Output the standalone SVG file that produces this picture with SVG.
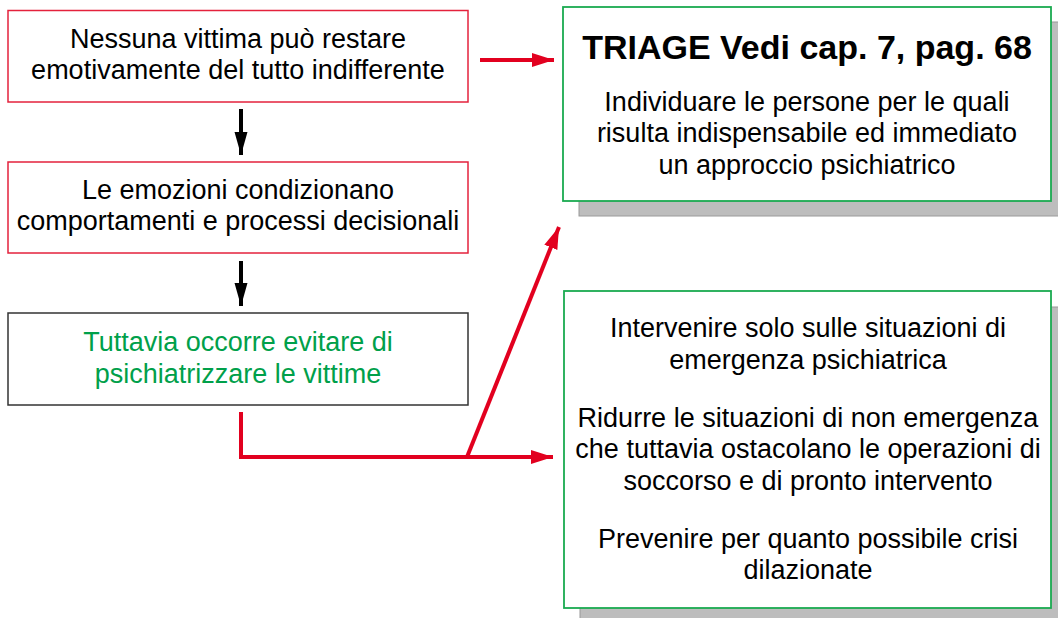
<svg xmlns="http://www.w3.org/2000/svg" width="1058" height="618" viewBox="0 0 1058 618">
<defs>
<style>
.t{font-family:"Liberation Sans",Arial,sans-serif;font-size:27px;fill:#000;text-anchor:middle}
.g{fill:#00a04a}
.b{font-weight:bold;font-size:34px}
.rbox{fill:#fff;stroke:#e4223c;stroke-width:1.5}
.kbox{fill:#fff;stroke:#333;stroke-width:1.5}
.gbox{fill:#fff;stroke:#1aaa50;stroke-width:1.8}
.sh{fill:#bdbdbd;stroke:#9a9a9a;stroke-width:1}
.red{fill:none;stroke:#e2001f;stroke-width:4}
.blk{fill:none;stroke:#000;stroke-width:4}
</style>
<marker id="ar" markerUnits="userSpaceOnUse" markerWidth="24" markerHeight="16" refX="22" refY="7" orient="auto">
<path d="M0,0 L22,7 L0,14 z" fill="#e2001f"/>
</marker>
<marker id="ak" markerUnits="userSpaceOnUse" markerWidth="24" markerHeight="16" refX="23" refY="6.5" orient="auto">
<path d="M0,0 L23,6.5 L0,13 z" fill="#000"/>
</marker>
</defs>
<rect width="1058" height="618" fill="#fff"/>
<g id="n1">
<rect class="rbox" x="8" y="10.5" width="460" height="91.5"/>
<text class="t" x="238" y="48">Nessuna vittima può restare</text>
<text class="t" x="238" y="79">emotivamente del tutto indifferente</text>
</g>
<g id="n2">
<rect class="rbox" x="8" y="162" width="460" height="91"/>
<text class="t" x="238" y="199">Le emozioni condizionano</text>
<text class="t" x="238" y="230">comportamenti e processi decisionali</text>
</g>
<g id="n3">
<rect class="kbox" x="8" y="313" width="460" height="92"/>
<text class="t g" x="238" y="351">Tuttavia occorre evitare di</text>
<text class="t g" x="238" y="383">psichiatrizzare le vittime</text>
</g>
<g id="n4">
<rect class="sh" x="579" y="22" width="490" height="194"/>
<rect class="gbox" x="563" y="7" width="488" height="194"/>
<text class="t b" x="807" y="59">TRIAGE Vedi cap. 7, pag. 68</text>
<text class="t" x="807" y="111">Individuare le persone per le quali</text>
<text class="t" x="807" y="142">risulta indispensabile ed immediato</text>
<text class="t" x="807" y="174">un approccio psichiatrico</text>
</g>
<g id="n5">
<rect class="sh" x="580" y="307" width="490" height="320"/>
<rect class="gbox" x="564" y="291" width="487" height="317"/>
<text class="t" x="808" y="337">Intervenire solo sulle situazioni di</text>
<text class="t" x="808" y="369">emergenza psichiatrica</text>
<text class="t" x="808" y="427">Ridurre le situazioni di non emergenza</text>
<text class="t" x="808" y="458">che tuttavia ostacolano le operazioni di</text>
<text class="t" x="808" y="490">soccorso e di pronto intervento</text>
<text class="t" x="808" y="548">Prevenire per quanto possibile crisi</text>
<text class="t" x="808" y="579">dilazionate</text>
</g>
<g id="connectors">
<line class="blk" x1="241" y1="109" x2="241" y2="155" marker-end="url(#ak)"/>
<line class="blk" x1="241" y1="261" x2="241" y2="306" marker-end="url(#ak)"/>
<line class="red" x1="480" y1="60" x2="554" y2="60" marker-end="url(#ar)"/>
<polyline class="red" points="241,412 241,457 553,457" marker-end="url(#ar)"/>
<line class="red" x1="467" y1="457" x2="559" y2="227" marker-end="url(#ar)"/>
</g>
</svg>
